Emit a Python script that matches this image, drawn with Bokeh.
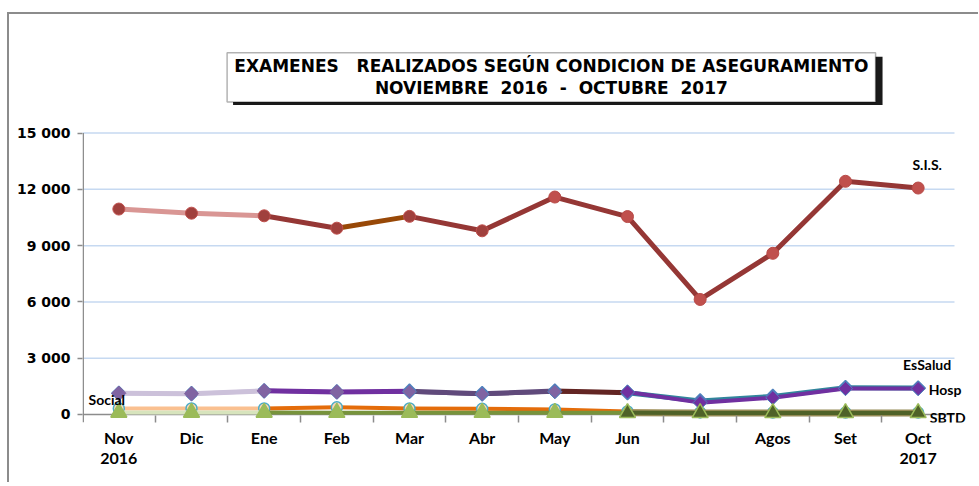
from bokeh.plotting import figure
from bokeh.models import FixedTicker, BoxAnnotation, Label, Range1d
from bokeh.embed import file_html
from bokeh.resources import INLINE
import math

# ---------------- data ----------------
months = ["Nov", "Dic", "Ene", "Feb", "Mar", "Abr", "May", "Jun", "Jul", "Agos", "Set", "Oct"]
month_labels = ["Nov\n2016", "Dic", "Ene", "Feb", "Mar", "Abr", "May", "Jun", "Jul", "Agos", "Set", "Oct\n2017"]
sis = [10950, 10730, 10590, 9930, 10560, 9790, 11590, 10550, 6130, 8590, 12430, 12070]
hosp = [1130, 1110, 1260, 1200, 1215, 1080, 1215, 1200, 630, 890, 1380, 1380]
essalud = [1130, 1110, 1260, 1200, 1240, 1110, 1250, 1160, 720, 960, 1430, 1410]
social = [320, 320, 320, 380, 320, 300, 270, 160, 110, 100, 100, 100]
sbtd = [100, 100, 100, 95, 95, 95, 95, 85, 80, 80, 80, 80]
y_ticks = [0, 3000, 6000, 9000, 12000, 15000]
y_tick_labels = ["0", "3 000", "6 000", "9 000", "12 000", "15 000"]
NB = "\u00a0"
title_lines = ["EXAMENES" + NB * 2 + " REALIZADOS SEGÚN CONDICION DE ASEGURAMIENTO",
               "NOVIEMBRE" + NB + " 2016" + NB + " -" + NB + " OCTUBRE" + NB + " 2017"]

x = list(range(len(months)))
X0, X1 = -0.5, len(months) - 0.5          # category band
Y_START, Y_END = -428.6, 21321

p = figure(width=971, height=470, output_backend="svg", toolbar_location=None,
           x_range=Range1d(X0, 11.803), y_range=Range1d(Y_START, Y_END),
           min_border_left=73, min_border_right=4, min_border_top=0, min_border_bottom=62,
           margin=(12, 0, 0, 7))
p.styles = {"border-left": "2px solid #8c8c8c", "border-top": "2px solid #8c8c8c"}
p.outline_line_color = None
p.background_fill_color = "white"
p.border_fill_color = "white"

# x axis
p.xaxis.ticker = FixedTicker(ticks=x, minor_ticks=[i + 0.5 for i in x[:-1]])
p.xaxis.major_label_overrides = {i: lab for i, lab in zip(x, month_labels)}
p.xaxis.axis_line_color = None
p.xaxis.major_tick_line_color = None
p.xaxis.minor_tick_line_color = "#8c8c8c"
p.xaxis.minor_tick_line_width = 1.5
p.xaxis.minor_tick_in = 7
p.xaxis.minor_tick_out = 0
p.xaxis.major_label_text_font = "Lato"
p.xaxis.major_label_text_font_style = "bold"
p.xaxis.major_label_text_font_size = "16px"
p.xaxis.major_label_text_color = "black"
p.xaxis.major_label_text_line_height = 1.1
p.xaxis.major_label_standoff = -1

# y axis
p.yaxis.ticker = FixedTicker(ticks=y_ticks)
p.yaxis.major_label_overrides = {t: lab for t, lab in zip(y_ticks, y_tick_labels)}
p.yaxis.axis_line_color = None
p.yaxis.major_tick_line_color = "#8c8c8c"
p.yaxis.major_tick_line_width = 1.5
p.yaxis.major_tick_out = 5
p.yaxis.major_tick_in = 0
p.yaxis.minor_tick_line_color = None
p.yaxis.major_label_text_font = "DejaVu Sans"
p.yaxis.major_label_text_font_style = "bold"
p.yaxis.major_label_text_font_size = "14px"
p.yaxis.major_label_text_color = "black"
p.yaxis.major_label_standoff = 7

p.xgrid.grid_line_color = None
p.ygrid.grid_line_color = None

# gridlines, zero line and y-axis line limited to the category band
p.segment(x0=X0, x1=X1, y0=y_ticks[1:], y1=y_ticks[1:], line_color="#c6d9f1", line_width=1.5)
p.segment(x0=X0, x1=X1, y0=y_ticks[0], y1=y_ticks[0], line_color="#8c8c8c", line_width=1.5)
p.segment(x0=X0 + 0.01, x1=X0 + 0.01, y0=Y_START, y1=y_ticks[-1], line_color="#8c8c8c", line_width=1.5)


def segs(vals, colors, width):
    p.segment(x0=x[:-1], y0=vals[:-1], x1=x[1:], y1=vals[1:],
              line_color=colors, line_width=width, line_cap="round")


# S.I.S.
segs(sis, ["#d99694", "#d99694", "#953735", "#984807"] + ["#953735"] * 7, 5)
p.scatter(x, sis, marker="circle", size=12,
          fill_color=["#a0403d"] * 6 + ["#c0504d"] * 6,
          line_color=["#c0504d"] * 6 + ["#b84a47"] * 6, line_width=1)

# EsSalud (under Hosp)
segs(essalud, ["#ccc1da"] * 2 + ["#7030a0"] * 2 + ["#604a7b"] * 2 + ["#632523"] + ["#31859c"] * 4, 5)
p.scatter(x, essalud, marker="square", angle=math.pi / 4, size=10,
          fill_color="#7030a0", line_color="#4f81bd", line_width=1.5)

# Hosp
segs(hosp, ["#ccc1da"] * 2 + ["#7030a0"] * 2 + ["#604a7b"] * 2 + ["#632523"] + ["#7030a0"] * 4, 4)
p.scatter(x, hosp, marker="square", angle=math.pi / 4, size=10,
          fill_color=["#8064a2"] * 7 + ["#7030a0"] * 5,
          line_color=["#8064a2"] * 4 + ["#4f81bd"] * 8, line_width=1)

# Social
segs(social, ["#fac090"] * 2 + ["#e46c0a"] * 9, 4)
p.scatter(x, social, marker="circle", size=11,
          fill_color="#fcd5b5", line_color="#4bacc6", line_width=1.5)

# SBTD
p.line(x[7:], sbtd[7:], line_color="#948a54", line_width=7)
segs(sbtd, ["#d7e4bd"] * 2 + ["#77933c"] * 5 + ["#4f6228"] * 4, 4)
p.scatter(x, sbtd, marker="triangle", size=16,
          fill_color=["#9bbb59"] * 7 + ["#4f6228"] * 5,
          line_color="#9bbb59", line_width=1.5)

# series labels
lab_kw = dict(text_font="Lato", text_font_style="bold", text_font_size="14px", text_color="black",
              text_baseline="middle")
p.add_layout(Label(x=11.124, y=13339, text="S.I.S.", text_align="center", **lab_kw))
p.add_layout(Label(x=11.124, y=2679, text="EsSalud", text_align="center", **lab_kw))
p.add_layout(Label(x=11.145, y=1339, text="Hosp", text_align="left", **lab_kw))
p.add_layout(Label(x=11.159, y=-161, text="SBTD", text_align="left", **lab_kw))
p.add_layout(Label(x=-0.166, y=804, text="Social", text_align="center", **lab_kw))

# title box with shadow
p.add_layout(BoxAnnotation(left=1.572, right=10.51, top=19071, bottom=16500,
                           fill_color="#1a1a1a", fill_alpha=1, line_color=None))
p.add_layout(BoxAnnotation(left=1.49, right=10.414, top=19286, bottom=16661,
                           fill_color="white", fill_alpha=1, line_color="black", line_width=1.5))
for ty, txt in zip([18589, 17411], title_lines):
    p.add_layout(Label(x=5.952, y=ty, text=txt,
                       text_align="center", text_baseline="middle",
                       text_font="DejaVu Sans", text_font_style="bold", text_font_size="17px",
                       text_color="black"))

open("out.html", "w").write(file_html(p, INLINE))
